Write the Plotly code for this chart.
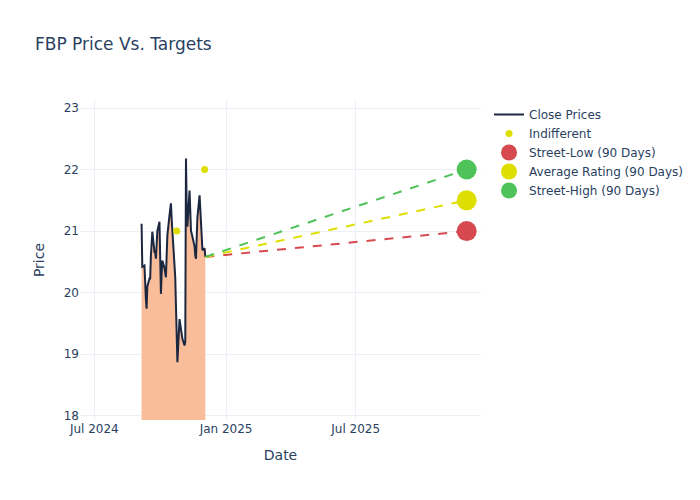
import plotly.graph_objects as go

# ---- data ----
close_dates = [
    "2024-09-05", "2024-09-06", "2024-09-09", "2024-09-10", "2024-09-11", "2024-09-12",
    "2024-09-13", "2024-09-16", "2024-09-17", "2024-09-18", "2024-09-19", "2024-09-20",
    "2024-09-23", "2024-09-24", "2024-09-25", "2024-09-26", "2024-09-27", "2024-09-30",
    "2024-10-01", "2024-10-02", "2024-10-03", "2024-10-04", "2024-10-07", "2024-10-08",
    "2024-10-09", "2024-10-10", "2024-10-11", "2024-10-14", "2024-10-15", "2024-10-16",
    "2024-10-17", "2024-10-18", "2024-10-21", "2024-10-22", "2024-10-23", "2024-10-24",
    "2024-10-25", "2024-10-28", "2024-10-29", "2024-10-30", "2024-10-31", "2024-11-01",
    "2024-11-04", "2024-11-05", "2024-11-06", "2024-11-07", "2024-11-08", "2024-11-11",
    "2024-11-12", "2024-11-13", "2024-11-14", "2024-11-15", "2024-11-18", "2024-11-19",
    "2024-11-20", "2024-11-21", "2024-11-22", "2024-11-25", "2024-11-26", "2024-11-27",
    "2024-11-29", "2024-12-02", "2024-12-03",
]
close_prices = [
    21.12, 20.42, 20.44, 20.05, 19.90, 19.74,
    20.10, 20.23, 20.23, 20.60, 20.80, 20.99,
    20.66, 20.66, 20.55, 20.80, 21.00, 21.15,
    20.50, 19.98, 20.30, 20.52, 20.40, 20.30,
    20.25, 20.60, 20.93, 21.26, 21.34, 21.45,
    21.20, 21.01, 20.60, 20.25, 19.80, 19.33,
    18.87, 19.57, 19.45, 19.36, 19.33, 19.25,
    19.14, 19.20, 22.18, 21.40, 21.07, 21.66,
    21.30, 21.00, 20.96, 20.90, 20.75, 20.60,
    20.55, 20.90, 21.23, 21.58, 21.30, 21.07,
    20.69, 20.72, 20.58,
]

indifferent_dates = ["2024-10-24", "2024-12-02"]
indifferent_targets = [21.0, 22.0]

target_date = "2025-12-03"
target_names = ["Street-Low (90 Days)", "Average Rating (90 Days)", "Street-High (90 Days)"]
target_values = [21.0, 21.5, 22.0]
target_colors = ["#d64a4f", "#dede00", "#4fc35a"]

x_range = ["2024-06-11", "2025-12-23"]
y_range = [17.93, 23.13]

# ---- figure ----
fig = go.Figure()

fig.add_trace(go.Scatter(
    x=close_dates, y=close_prices, mode="lines", fill="tozeroy",
    fillcolor="#F9BD9A", line=dict(width=0, color="#F9BD9A"),
    showlegend=False, hoverinfo="skip",
))
fig.add_trace(go.Scatter(
    x=close_dates, y=close_prices, mode="lines", name="Close Prices",
    line=dict(color="#1c2740", width=2),
))
fig.add_trace(go.Scatter(
    x=indifferent_dates, y=indifferent_targets, mode="markers", name="Indifferent",
    marker=dict(color="#dede00", size=7),
))

last_date = close_dates[-1]
last_price = close_prices[-1]
for name, val, col in zip(target_names, target_values, target_colors):
    fig.add_trace(go.Scatter(
        x=[last_date, target_date], y=[last_price, val], mode="lines",
        line=dict(color=col, width=2, dash="dash"), showlegend=False,
    ))
for name, val, col in zip(target_names, target_values, target_colors):
    fig.add_trace(go.Scatter(
        x=[target_date], y=[val], mode="markers", name=name,
        marker=dict(color=col, size=20),
    ))

fig.update_layout(
    template="plotly_white",
    width=700, height=500,
    font=dict(family="DejaVu Sans"),
    title=dict(text="FBP Price Vs. Targets"),
    xaxis=dict(title="Date", range=x_range, dtick="M6", tick0="2024-07-01",
               tickformat="%b %Y"),
    yaxis=dict(title="Price", range=y_range, dtick=1),
)

fig.write_html("out.html", config={"displayModeBar": False},
               post_script="document.body.style.margin='0';")
